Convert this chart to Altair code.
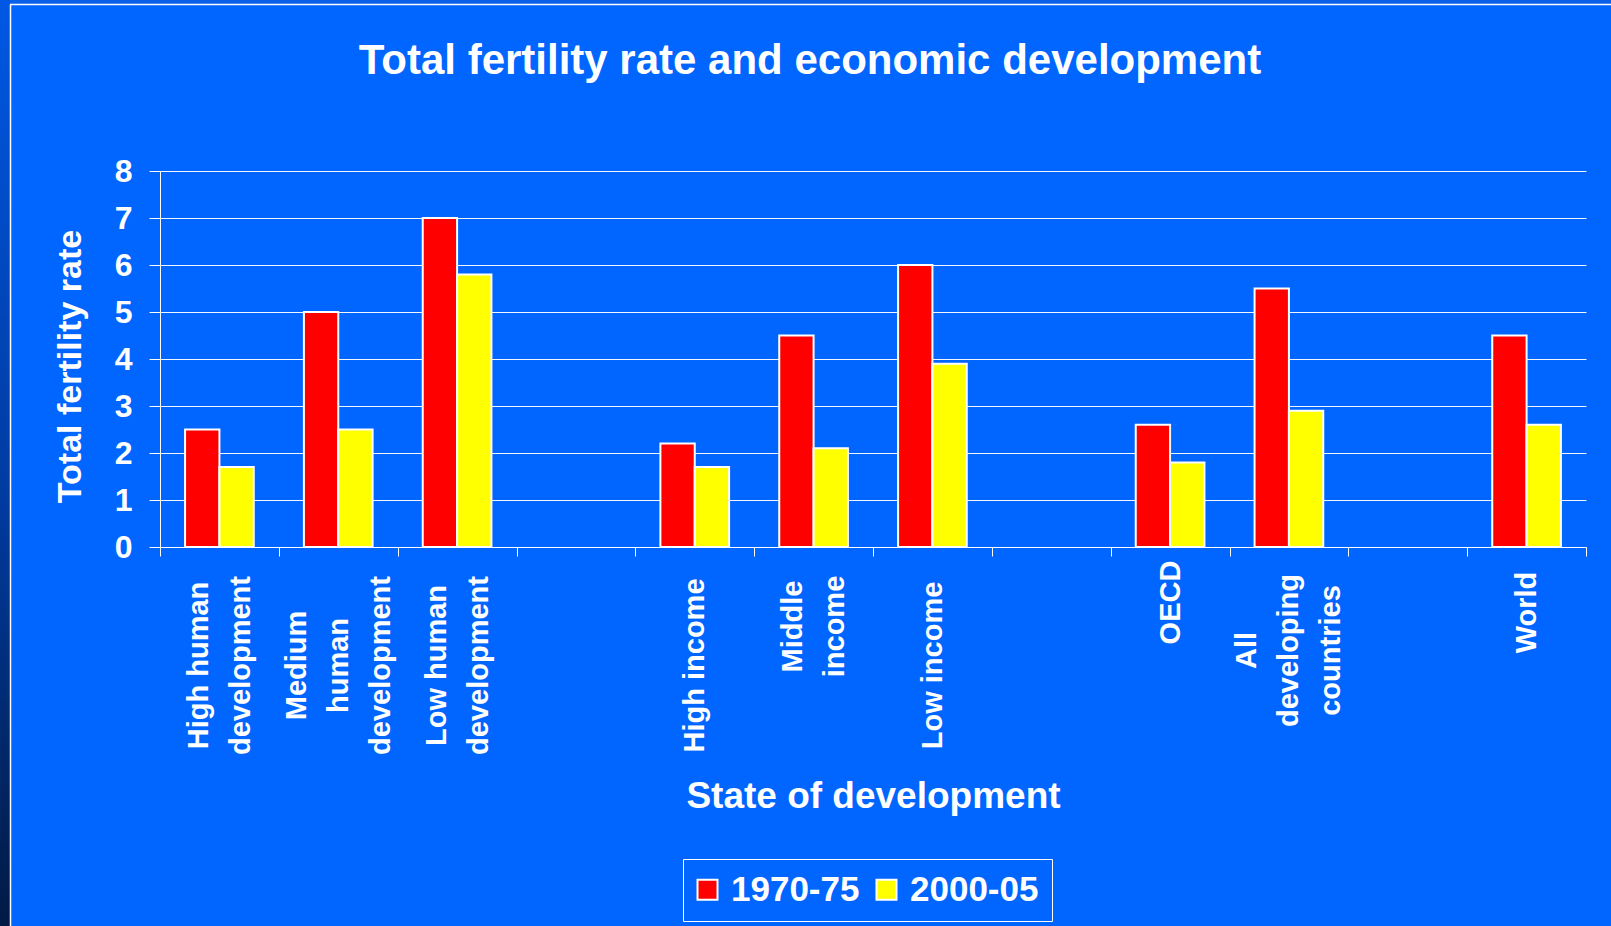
import altair as alt
import pandas as pd

# Axis slots, left to right; whitespace-only entries are empty spacer slots
slots = [
    "High human\ndevelopment",
    "Medium\nhuman\ndevelopment",
    "Low human\ndevelopment",
    " ",
    "High income",
    "Middle\nincome",
    "Low income",
    "  ",
    "OECD",
    "All\ndeveloping\ncountries",
    "   ",
    "World",
]
groups = [s for s in slots if s.strip()]
periods = ["1970-75", "2000-05"]
tfr_1970_75 = [2.5, 5.0, 7.0, 2.2, 4.5, 6.0, 2.6, 5.5, 4.5]
tfr_2000_05 = [1.7, 2.5, 5.8, 1.7, 2.1, 3.9, 1.8, 2.9, 2.6]
y_ticks = [0, 1, 2, 3, 4, 5, 6, 7, 8]

rows = []
for g, a, b in zip(groups, tfr_1970_75, tfr_2000_05):
    rows.append({"group": g, "period": periods[0], "tfr": a})
    rows.append({"group": g, "period": periods[1], "tfr": b})
df = pd.DataFrame(rows)

FONT = "Liberation Sans"
BG = "#0066FF"
W, H = 1426, 376
PAD = {"left": 160, "top": 171, "right": 25, "bottom": 379}
LINE_H = 42

# rotated category labels are top-anchored: shorter blocks sit closer to the axis
short_label_pad = {"OECD": 46, "World": 56, "Middle\nincome": 70, "All\ndeveloping\ncountries": 94}
pad_expr = ""
for k, v in short_label_pad.items():
    key = k.replace("\n", "\\n")
    pad_expr += f"datum.value == '{key}' ? {v} : "
pad_expr += "109"
# centre each multi-line block on its slot
offset_expr = f"-(length(split(datum.value, '\\n')) - 1) * {LINE_H / 2}"

bars = alt.Chart(df).mark_bar(stroke="white", strokeWidth=2).encode(
    x=alt.X(
        "group:N",
        sort=slots,
        scale=alt.Scale(domain=slots, paddingInner=0, paddingOuter=0),
        axis=alt.Axis(
            title="State of development",
            titleFont=FONT, titleFontSize=37, titleFontWeight="bold", titleColor="white",
            titleX=W / 2, titleY=260, titleAlign="center", titleBaseline="alphabetic",
            labelFont=FONT, labelFontSize=29, labelFontWeight="bold", labelColor="white",
            labelAngle=270, labelAlign="center", labelBaseline="middle",
            labelLineHeight=LINE_H, labelLimit=500, labelOverlap=False, labelBound=False,
            labelPadding=alt.ExprRef(pad_expr),
            labelOffset=alt.ExprRef(offset_expr),
            labelExpr="split(datum.label, '\\n')",
            tickBand="extent", tickSize=9, tickColor="white", tickWidth=1,
            domainColor="white", domainWidth=1, grid=False,
        ),
    ),
    xOffset=alt.XOffset("period:N", sort=periods, scale=alt.Scale(paddingInner=0, paddingOuter=0.73)),
    y=alt.Y(
        "tfr:Q",
        scale=alt.Scale(domain=[0, 8], nice=False),
        axis=alt.Axis(
            title="Total fertility rate",
            titleFont=FONT, titleFontSize=34, titleFontWeight="bold", titleColor="white",
            titleAngle=270, titleX=-90, titleY=195, titleAlign="center", titleBaseline="middle",
            values=y_ticks, format="d",
            labelFont=FONT, labelFontSize=32, labelFontWeight="bold", labelColor="white",
            labelPadding=17,
            tickSize=11, tickColor="white", tickWidth=1,
            domainColor="white", domainWidth=1,
            grid=True, gridColor="white", gridWidth=1, gridOpacity=0.95,
        ),
    ),
    color=alt.Color(
        "period:N",
        sort=periods,
        scale=alt.Scale(domain=periods, range=["#FF0000", "#FFFF00"]),
        legend=alt.Legend(
            title=None, orient="none", legendX=523, legendY=688, direction="horizontal",
            labelFont=FONT, labelFontSize=35, labelFontWeight="bold", labelColor="white",
            symbolType="square", symbolSize=400, symbolStrokeColor="white", symbolStrokeWidth=2,
            symbolOpacity=1, symbolOffset=-6, labelOffset=6, columnPadding=12, padding=13,
            strokeColor="white",
        ),
    ),
)

one = alt.Data(values=[{}])

# dark left edge of the slide
edge = alt.Chart(one).mark_rect(
    color=alt.Gradient(
        gradient="linear",
        stops=[
            alt.GradientStop(color="#0058E4", offset=0),
            alt.GradientStop(color="#003A9E", offset=0.55),
            alt.GradientStop(color="#001A44", offset=1),
        ],
        x1=0, x2=0, y1=0, y2=1,
    )
).encode(x=alt.value(-160), x2=alt.value(-150), y=alt.value(-171), y2=alt.value(755))

top_band = alt.Chart(one).mark_rect(color="#0A60E8").encode(
    x=alt.value(-150), x2=alt.value(1451), y=alt.value(-171), y2=alt.value(-166.5)
)

frame_top = alt.Chart(one).mark_rule(color="white", strokeWidth=1.5).encode(
    x=alt.value(-150), x2=alt.value(1451), y=alt.value(-166.5)
)
frame_left = alt.Chart(one).mark_rule(color="white", strokeWidth=1.5).encode(
    x=alt.value(-149.5), y=alt.value(-166.5), y2=alt.value(755)
)

chart = alt.layer(edge, top_band, frame_top, frame_left, bars).properties(
    width=W,
    height=H,
    padding=PAD,
    autosize=alt.AutoSizeParams(type="none"),
    background=BG,
    title=alt.TitleParams(
        "Total fertility rate and economic development",
        font=FONT, fontSize=42, fontWeight="bold", color="white",
        anchor="middle", frame="group", dx=-63, dy=33, baseline="alphabetic", offset=-83,
    ),
).configure_view(stroke=None)

chart.save("out.html", embed_options={"renderer": "svg", "actions": False})
